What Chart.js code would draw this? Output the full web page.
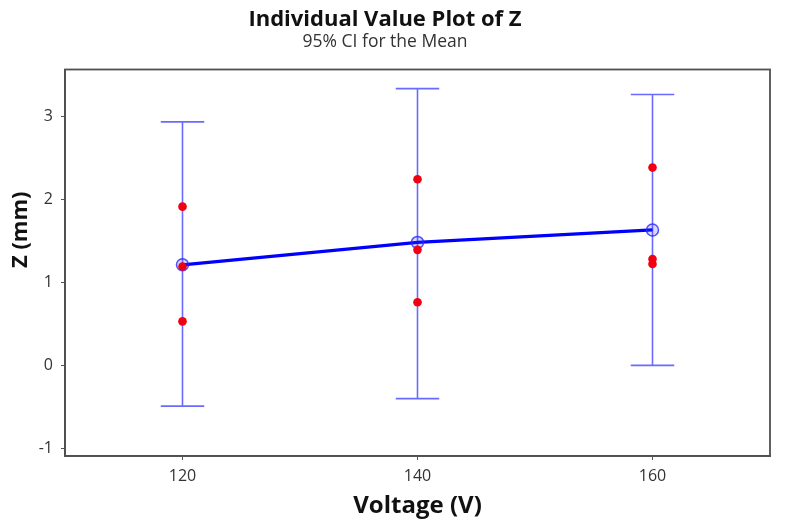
<!DOCTYPE html>
<html>
<head>
  <title>Individual Value Plot of Z</title>
  <script src="https://cdn.jsdelivr.net/npm/chart.js@4.4.1/dist/chart.umd.min.js"></script>
  <style>
    html, body { margin: 0; padding: 0; background: #fff; }
    #wrap { width: 785px; height: 526px; }
  </style>
</head>
<body>
  <div id="wrap"><canvas id="chartCanvas"></canvas></div>

  <script>
    // values
    const voltages = [120, 140, 160];
    const obs120 = [1.91, 1.19, 0.53];
    const obs140 = [2.24, 1.39, 0.76];
    const obs160 = [2.38, 1.28, 1.22];
    const means = [1.21, 1.48, 1.63];
    const ciLower = [-0.49, -0.40, 0.00];
    const ciUpper = [2.93, 3.33, 3.26];
    const xTicks = [120, 140, 160];
    const yTicks = [-1, 0, 1, 2, 3];

    const capHalf = 1.85;
    const fontFamily = "'Open Sans', 'DejaVu Sans', sans-serif";

    const observations = [obs120, obs140, obs160];
    const points = [];
    observations.forEach((list, i) => {
      list.forEach(v => points.push({ x: voltages[i], y: v }));
    });

    // one path per interval: top cap, whisker, bottom cap
    const ciSets = voltages.map((x, i) => ({
      type: 'line',
      data: [
        { x: x - capHalf, y: ciUpper[i] },
        { x: x + capHalf, y: ciUpper[i] },
        { x: x, y: ciUpper[i] },
        { x: x, y: ciLower[i] },
        { x: x - capHalf, y: ciLower[i] },
        { x: x + capHalf, y: ciLower[i] }
      ],
      borderColor: 'rgba(80, 80, 255, 0.85)',
      borderWidth: 1.6,
      borderJoinStyle: 'bevel',
      pointRadius: 0,
      fill: false,
      order: 3
    }));

    const frame = {
      id: 'frame',
      afterDraw(chart) {
        const a = chart.chartArea;
        const ctx = chart.ctx;
        ctx.save();
        ctx.strokeStyle = '#505050';
        ctx.lineWidth = 1.8;
        ctx.strokeRect(a.left, a.top, a.right - a.left, a.bottom - a.top);
        ctx.restore();
      }
    };

    const ctx = document.getElementById('chartCanvas').getContext('2d');
    new Chart(ctx, {
      type: 'scatter',
      data: {
        datasets: [
          ...ciSets,
          {
            type: 'line',
            data: voltages.map((x, i) => ({ x: x, y: means[i] })),
            borderColor: '#0000ff',
            borderWidth: 3.2,
            pointRadius: 6,
            pointBorderWidth: 1.5,
            pointBorderColor: 'rgba(40, 40, 255, 0.8)',
            pointBackgroundColor: 'rgba(60, 60, 255, 0.2)',
            fill: false,
            order: 2
          },
          {
            data: points,
            pointRadius: 4.3,
            pointBorderWidth: 0,
            pointBackgroundColor: '#f00010',
            order: 1
          }
        ]
      },
      options: {
        responsive: true,
        maintainAspectRatio: false,
        animation: false,
        layout: { padding: { left: 0, right: 15, top: 0, bottom: 0 } },
        plugins: {
          legend: { display: false },
          tooltip: { enabled: false },
          title: {
            display: true,
            text: 'Individual Value Plot of Z',
            color: '#111',
            font: { family: fontFamily, size: 22, weight: 'bold', lineHeight: 1 },
            padding: { top: 9, bottom: 0 }
          },
          subtitle: {
            display: true,
            text: '95% CI for the Mean',
            color: '#333',
            font: { family: fontFamily, size: 17.5, lineHeight: 1 },
            padding: { top: 2, bottom: 19 }
          }
        },
        scales: {
          x: {
            type: 'linear',
            min: 110,
            max: 170,
            afterBuildTicks: ax => { ax.ticks = xTicks.map(v => ({ value: v })); },
            afterFit: ax => { ax.height = 70; },
            grid: { drawOnChartArea: false, drawTicks: true, tickLength: 4, color: '#555' },
            border: { display: true, color: '#505050', width: 1.8 },
            ticks: { color: '#333', padding: 7, font: { family: fontFamily, size: 16 } },
            title: {
              display: true,
              text: 'Voltage (V)',
              color: '#111',
              font: { family: fontFamily, size: 24, weight: 'bold' },
              padding: { top: 0, bottom: 5 }
            }
          },
          y: {
            min: -1.09,
            max: 3.56,
            afterBuildTicks: ax => { ax.ticks = yTicks.map(v => ({ value: v })); },
            afterFit: ax => { ax.width = 65; },
            grid: { drawOnChartArea: false, drawTicks: true, tickLength: 4, color: '#555' },
            border: { display: true, color: '#505050', width: 1.8 },
            ticks: { color: '#333', padding: 8, font: { family: fontFamily, size: 16 } },
            title: {
              display: true,
              // leading em spaces push the label up, as in the original
              text: '\u2003\u2003\u2003Z (mm)',
              color: '#111',
              font: { family: fontFamily, size: 22, weight: 'bold' },
              padding: { top: 8, bottom: 0 }
            }
          }
        }
      },
      plugins: [frame]
    });
  </script>
</body>
</html>
